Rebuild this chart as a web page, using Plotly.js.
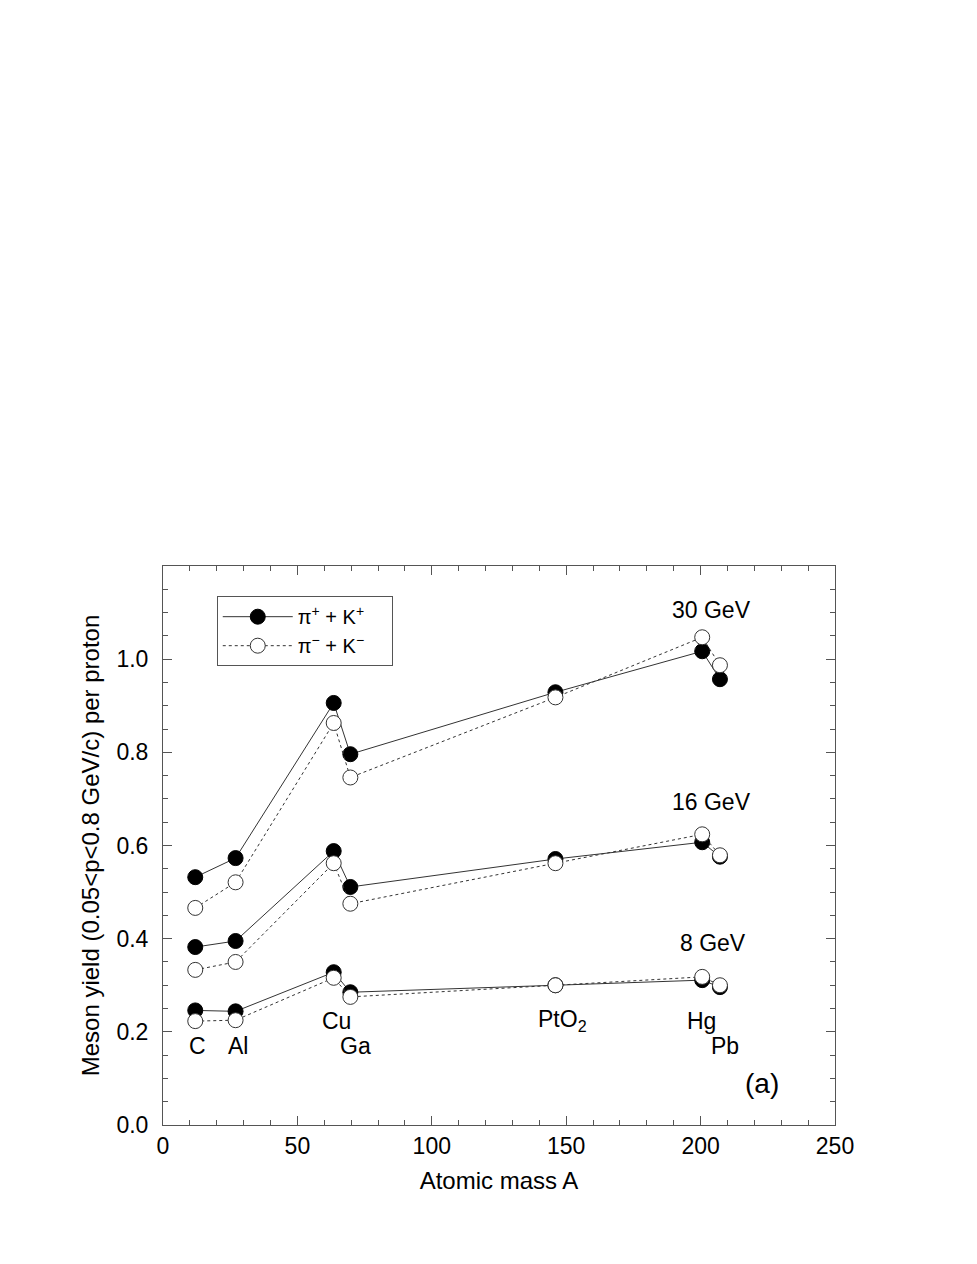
<!DOCTYPE html>
<html>
<head>
<meta charset="utf-8">
<script src="https://cdn.plot.ly/plotly-3.0.1.min.js"></script>
<style>html,body{margin:0;padding:0;background:#fff;}#chart{width:977px;height:1264px;}</style>
</head>
<body>
<div id="chart"></div>
<script>
// Target atomic masses (as placed in the figure)
const targets = ["C", "Al", "Cu", "Ga", "PtO2", "Hg", "Pb"];
const massA = [12, 27, 63.5, 69.7, 146, 200.6, 207.2];

// Meson yields per proton, positive (pi+ + K+) and negative (pi- + K-)
const pos30 = [0.532, 0.573, 0.906, 0.796, 0.929, 1.017, 0.957];
const neg30 = [0.466, 0.521, 0.863, 0.746, 0.918, 1.047, 0.987];
const pos16 = [0.382, 0.395, 0.588, 0.511, 0.571, 0.607, 0.576];
const neg16 = [0.333, 0.350, 0.562, 0.475, 0.562, 0.624, 0.579];
const pos8  = [0.246, 0.244, 0.328, 0.285, 0.300, 0.311, 0.296];
const neg8  = [0.223, 0.225, 0.316, 0.275, 0.300, 0.318, 0.300];

// Tick labels
const yTickVals = [0, 0.2, 0.4, 0.6, 0.8, 1.0];
const yTickText = ["0.0", "0.2", "0.4", "0.6", "0.8", "1.0"];
const xTickVals = [0, 50, 100, 150, 200, 250];
const xTickText = ["0", "50", "100", "150", "200", "250"];

// Label text
const posName = "π<sup>+</sup> + K<sup>+</sup>\u00a0\u00a0\u00a0\u00a0";
const negName = "π<sup>−</sup> + K<sup>−</sup>\u00a0\u00a0\u00a0\u00a0";
const energyLabels = ["30 GeV", "16 GeV", "8 GeV"];
const energyLabelX = [204, 204, 204.5];
const energyLabelY = [1.105, 0.693, 0.390];
const targetLabels = ["C", "Al", "Cu", "Ga", "PtO<sub>2</sub>", "Hg", "Pb"];
const targetLabelX = [12.7, 28, 64.5, 71.5, 148.5, 200.5, 209];
const targetLabelY = [0.170, 0.170, 0.224, 0.170, 0.224, 0.224, 0.170];

const FONT = "Liberation Sans, Arial, Helvetica, sans-serif";

function posTrace(y, show) {
  return {x: massA, y: y, type: "scatter", mode: "lines+markers",
    name: posName, legendgroup: "pos", showlegend: show,
    line: {color: "#333", width: 1},
    marker: {symbol: "circle", size: 15, color: "#000", line: {color: "#000", width: 1}}};
}
function negTrace(y, show) {
  return {x: massA, y: y, type: "scatter", mode: "lines+markers",
    name: negName, legendgroup: "neg", showlegend: show,
    line: {color: "#333", width: 1, dash: "dot"},
    marker: {symbol: "circle", size: 15, color: "#fff", line: {color: "#333", width: 1}}};
}

const data = [
  posTrace(pos30, true), posTrace(pos16, false), posTrace(pos8, false),
  negTrace(neg30, true), negTrace(neg16, false), negTrace(neg8, false)
];

const annotations = [];
energyLabels.forEach((t, i) => annotations.push({x: energyLabelX[i], y: energyLabelY[i], xref: "x", yref: "y",
  text: t, showarrow: false, font: {family: FONT, size: 23, color: "#000"}}));
targetLabels.forEach((t, i) => annotations.push({x: targetLabelX[i], y: targetLabelY[i], xref: "x", yref: "y",
  text: t, showarrow: false, font: {family: FONT, size: 23, color: "#000"}}));
annotations.push({x: 223, y: 0.09, xref: "x", yref: "y", text: "(a)", showarrow: false,
  font: {family: FONT, size: 28, color: "#000"}});

const axisCommon = {
  showline: true, linecolor: "#555", linewidth: 1, mirror: "allticks",
  ticks: "inside", ticklen: 9, tickcolor: "#555", tickwidth: 1,
  showgrid: false, zeroline: false, tickmode: "array",
  tickfont: {family: FONT, size: 23, color: "#000"}
};

const layout = {
  width: 977, height: 1264,
  margin: {l: 163, r: 142, t: 566, b: 139},
  paper_bgcolor: "#fff", plot_bgcolor: "#fff",
  font: {family: FONT, color: "#000"},
  showlegend: true,
  legend: {x: 0.08, y: 0.946, xanchor: "left", yanchor: "top",
    bordercolor: "#555", borderwidth: 1, bgcolor: "#fff",
    font: {family: FONT, size: 20, color: "#000"}, itemwidth: 70, tracegroupgap: 0},
  xaxis: Object.assign({}, axisCommon, {
    range: [0, 250], tickvals: xTickVals, ticktext: xTickText, ticklabelstandoff: 0,
    minor: {tickmode: "linear", tick0: 0, dtick: 10, ticks: "inside", ticklen: 5, tickcolor: "#555"},
    title: {text: "Atomic mass A", font: {family: FONT, size: 24, color: "#000"}, standoff: 14}
  }),
  yaxis: Object.assign({}, axisCommon, {
    range: [0, 1.2], tickvals: yTickVals, ticktext: yTickText, ticklabelstandoff: 9,
    minor: {tickmode: "linear", tick0: 0, dtick: 0.05, ticks: "inside", ticklen: 5, tickcolor: "#555"},
    title: {text: "Meson yield (0.05&lt;p&lt;0.8 GeV/c) per proton", font: {family: FONT, size: 24, color: "#000"}, standoff: 10}
  }),
  annotations: annotations
};

Plotly.newPlot("chart", data, layout, {staticPlot: true});
</script>
</body>
</html>
